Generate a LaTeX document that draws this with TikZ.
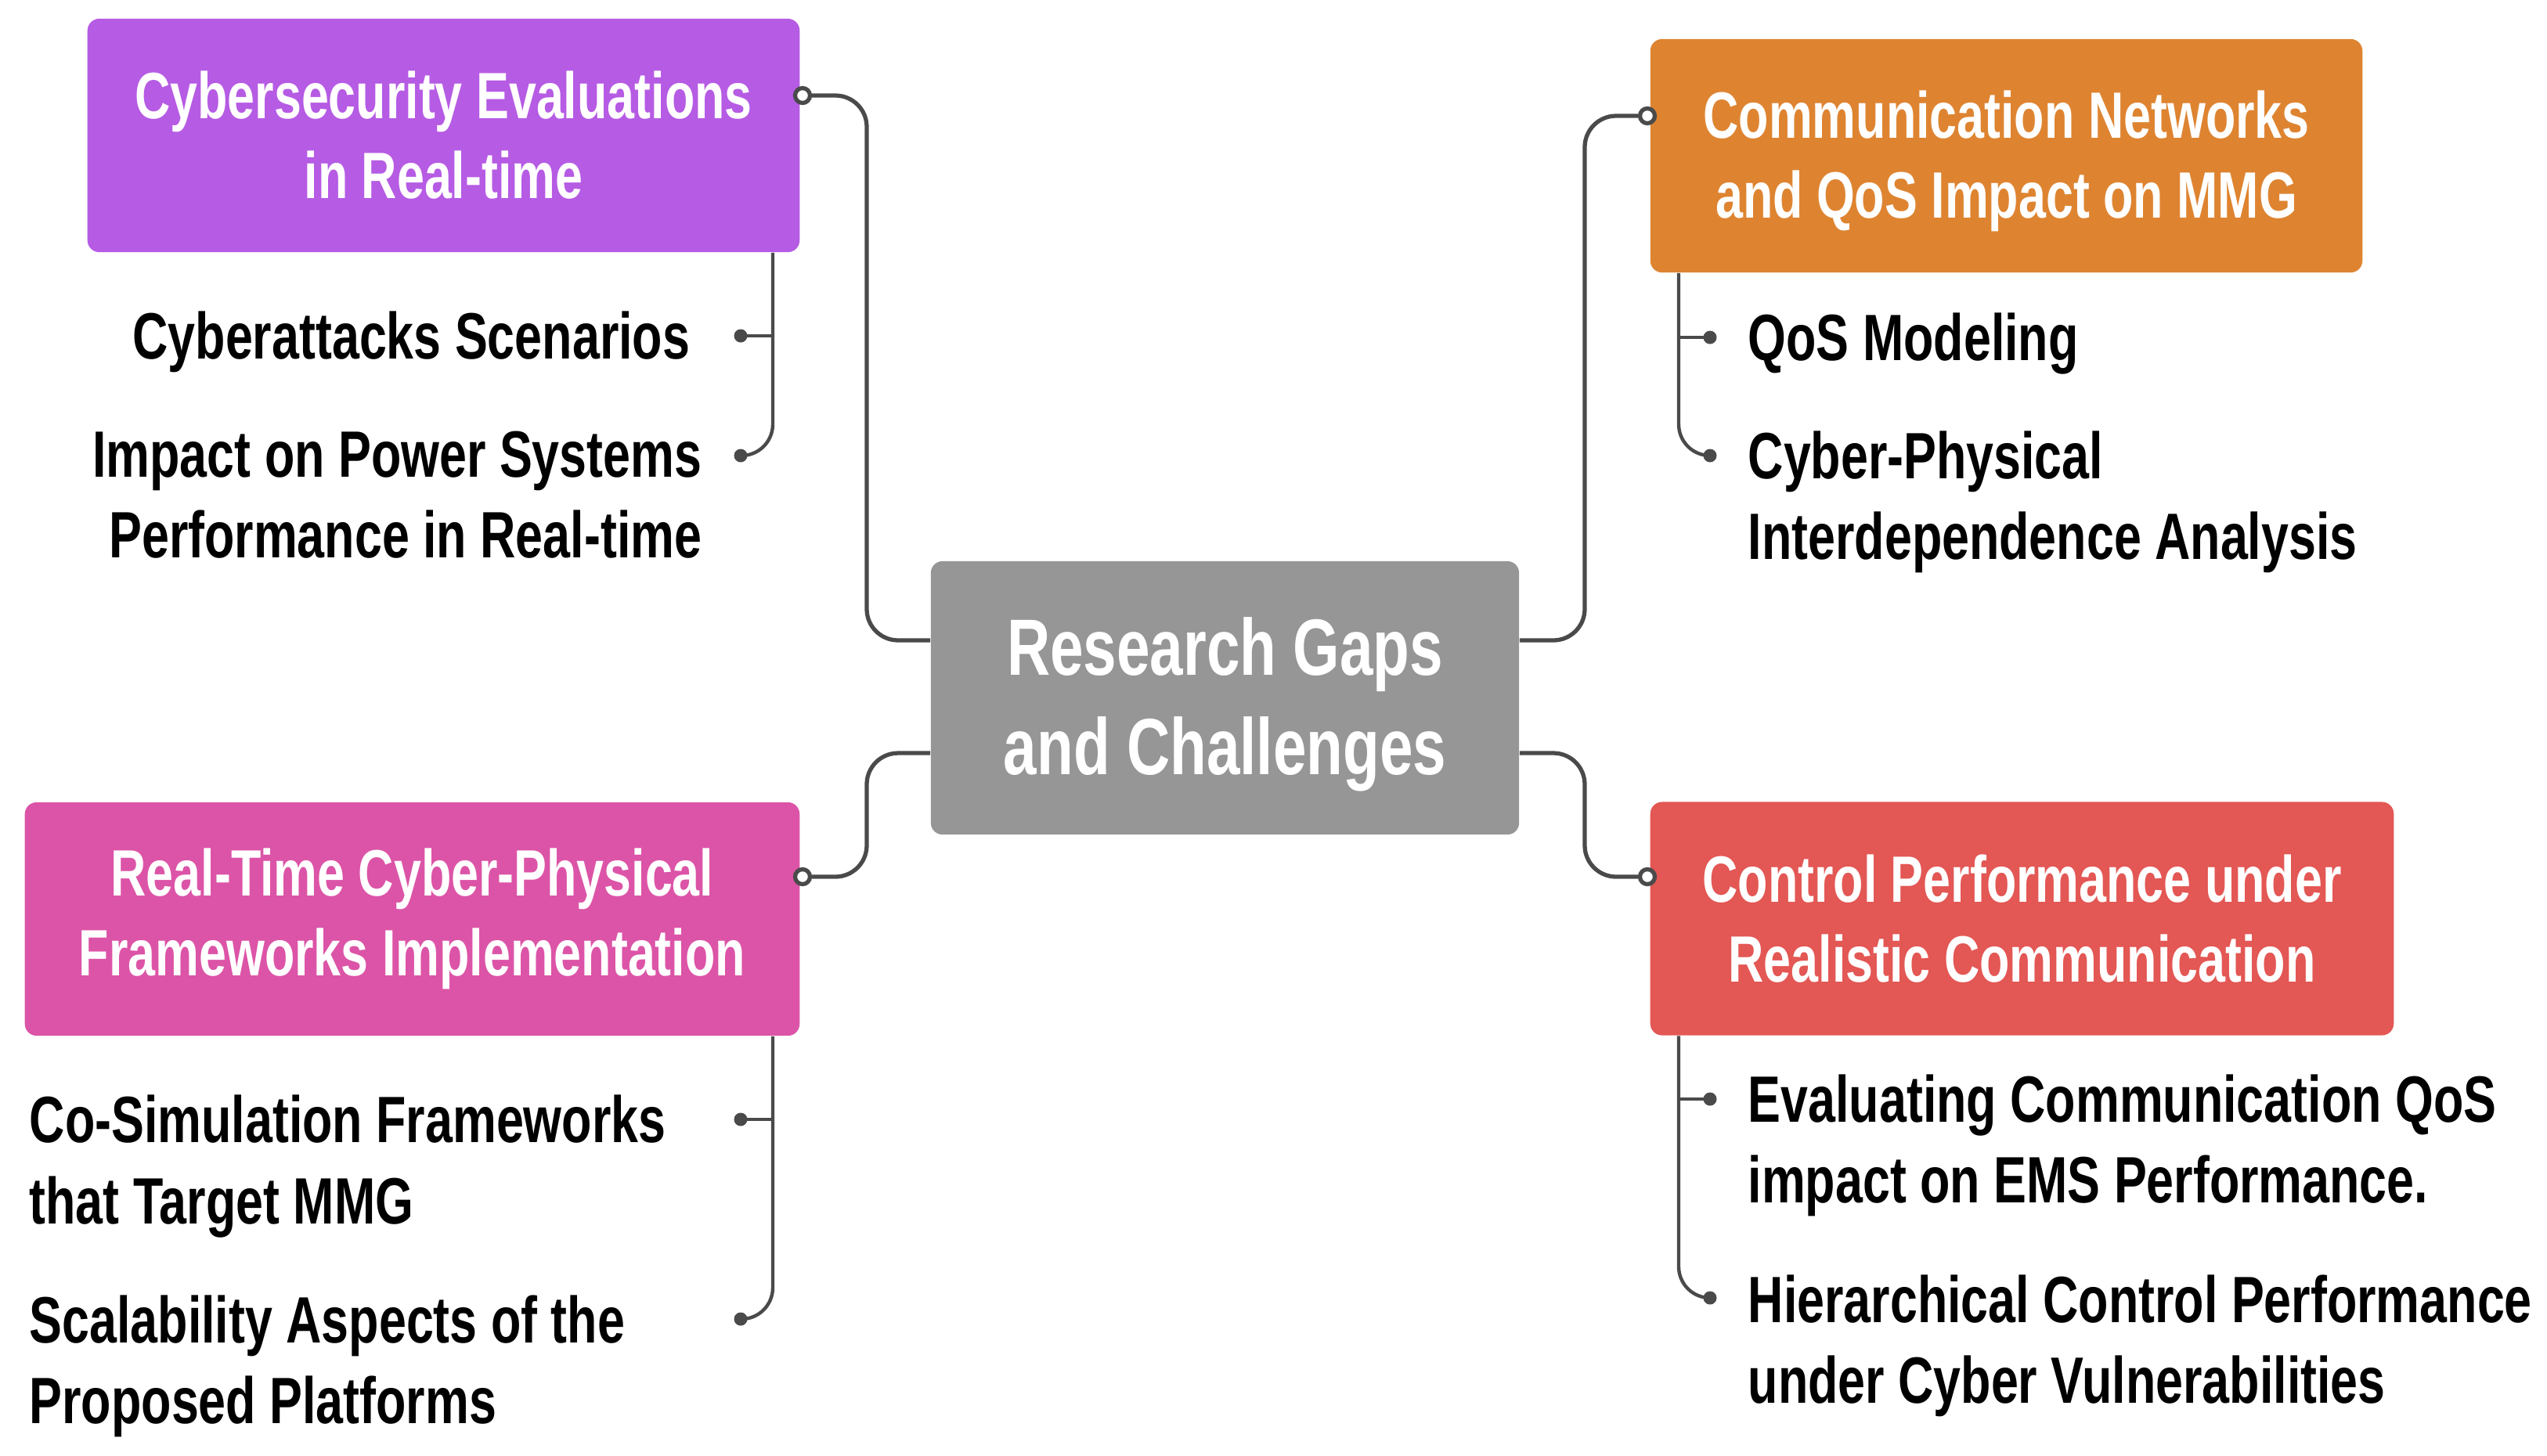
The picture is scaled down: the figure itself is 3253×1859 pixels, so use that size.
\documentclass[tikz,border=0pt]{standalone}
\usepackage{fontspec}
\setmainfont[FakeStretch=0.75]{Liberation Sans}
\usetikzlibrary{calc}
\definecolor{cpurple}{HTML}{B65BE4}
\definecolor{corange}{HTML}{DE8431}
\definecolor{cpink}{HTML}{DC54A7}
\definecolor{cred}{HTML}{E35754}
\definecolor{cgrey}{HTML}{969696}
\definecolor{cline}{HTML}{4A4A4A}
\tikzset{
  topic/.style={rounded corners=0.15cm, inner sep=0pt, align=center, text=white,
    font=\bfseries\fontsize{23.8pt}{29pt}\selectfont, minimum height=2.98cm},
  central/.style={rounded corners=0.15cm, inner sep=0pt, align=center, text=white, fill=cgrey,
    font=\bfseries\fontsize{29pt}{36pt}\selectfont, minimum width=7.51cm, minimum height=3.49cm},
  leafL/.style={inner sep=0pt, anchor=east, align=right, text=black,
    font=\bfseries\fontsize{23.8pt}{29.3pt}\selectfont},
  leafR/.style={inner sep=0pt, anchor=west, align=left, text=black,
    font=\bfseries\fontsize{23.8pt}{29.3pt}\selectfont},
  conn/.style={draw=cline, line width=1.5pt, rounded corners=0.4cm},
  sub/.style={draw=cline, line width=1.25pt, rounded corners=0.4cm},
  port/.style={circle, draw=cline, fill=white, line width=1.5pt, inner sep=0pt, minimum size=0.19cm},
  dotn/.style={circle, fill=cline, inner sep=0pt, minimum size=0.17cm},
}
\begin{document}
\begin{tikzpicture}[x=0.01cm, y=-0.01cm]
\useasboundingbox (0,0) rectangle (3253,1859);

% central node
\node[central] (gap) at (1564.5,891.5) {\rule{0pt}{0.90cm}Research Gaps\\and Challenges};

% topic boxes
\node[topic, fill=cpurple, minimum width=9.09cm] (cyb) at (566.5,173) {Cybersecurity Evaluations\\in Real-time};
\node[topic, fill=corange, minimum width=9.09cm] (com) at (2562.5,199) {\rule{0pt}{0.745cm}Communication Networks\\and QoS Impact on MMG};
\node[topic, fill=cpink, minimum width=9.89cm] (rtf) at (526.5,1174) {Real-Time Cyber-Physical\\Frameworks Implementation};
\node[topic, fill=cred, minimum width=9.49cm] (ctl) at (2582.5,1173.5) {Control Performance under\\Realistic Communication};

% ports
\node[port] (pcyb) at (1025,122) {};
\node[port] (pcom) at (2104,148) {};
\node[port] (prtf) at (1025,1120) {};
\node[port] (pctl) at (2104,1120) {};

% main connectors
\draw[conn] ([yshift=0.735cm]gap.west) -- (1107,818) -- (1107,122) -- (pcyb.east);
\draw[conn] ([yshift=-0.705cm]gap.west) -- (1107,962) -- (1107,1120) -- (prtf.east);
\draw[conn] ([yshift=0.735cm]gap.east) -- (2024,818) -- (2024,148) -- (pcom.west);
\draw[conn] ([yshift=-0.705cm]gap.east) -- (2024,962) -- (2024,1120) -- (pctl.west);

% leaves
\node[leafL] (c1) at (882,437) {Cyberattacks Scenarios};
\node[leafL] (c2) at (897,641) {Impact on Power Systems\\Performance in Real-time\rule[-0.21em]{0pt}{0.1pt}};
\node[leafR] (o1) at (2232,439) {QoS Modeling};
\node[leafR] (o2) at (2232,641) {Cyber-Physical\\Interdependence Analysis};
\node[leafR] (p1) at (37,1490) {Co-Simulation Frameworks\\that Target MMG};
\node[leafR] (p2) at (37,1745) {Scalability Aspects of the\\Proposed Platforms};
\node[leafR] (r1) at (2232,1463.5) {Evaluating Communication QoS\\impact on EMS Performance.};
\node[leafR] (r2) at (2232,1719) {Hierarchical Control Performance\\under Cyber Vulnerabilities};

% leaf dots
\node[dotn] (dc1) at (946,429) {};
\node[dotn] (dc2) at (946,582) {};
\node[dotn] (do1) at (2184,431) {};
\node[dotn] (do2) at (2184,582) {};
\node[dotn] (dp1) at (946,1430) {};
\node[dotn] (dp2) at (946,1685) {};
\node[dotn] (dr1) at (2184,1404) {};
\node[dotn] (dr2) at (2184,1658) {};

% sub connectors
\draw[sub] (cyb.south -| 987,0) -- (987,582) -- (dc2.center);
\draw[sub] (987,429) -- (dc1.center);
\draw[sub] (com.south -| 2144,0) -- (2144,582) -- (do2.center);
\draw[sub] (2144,431) -- (do1.center);
\draw[sub] (rtf.south -| 987,0) -- (987,1685) -- (dp2.center);
\draw[sub] (987,1430) -- (dp1.center);
\draw[sub] (ctl.south -| 2144,0) -- (2144,1658) -- (dr2.center);
\draw[sub] (2144,1404) -- (dr1.center);
\end{tikzpicture}
\end{document}
